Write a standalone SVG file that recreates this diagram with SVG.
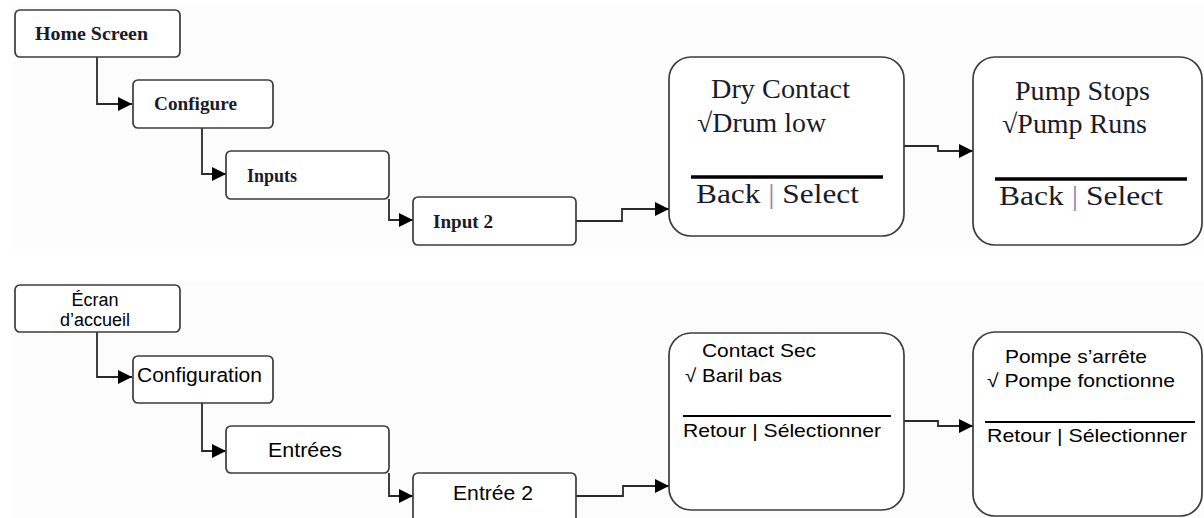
<svg xmlns="http://www.w3.org/2000/svg" width="1204" height="518" viewBox="0 0 1204 518">
<style>
.bg{fill:#fbfcfb}
.box{fill:#ffffff;stroke:#3c3c3c;stroke-width:1.7}
.con{fill:none;stroke:#2a2a2a;stroke-width:1.8}
.sep{stroke:#000;stroke-width:3.5}
.sep2{stroke:#000;stroke-width:2}
.ts{font-family:"Liberation Serif","Times New Roman",serif;font-weight:bold;font-size:18px;fill:#1a1a2a}
.tb{font-family:"Liberation Serif","Times New Roman",serif;font-size:27px;fill:#1a1a2a}
.fs{font-family:"Liberation Sans",Arial,sans-serif;font-size:18px;fill:#000}
.fm{font-family:"Liberation Sans",Arial,sans-serif;font-size:19px;fill:#000}
.fb{font-family:"Liberation Sans",Arial,sans-serif;font-size:20px;fill:#000}
.pipe{fill:#8c7fb4}
</style>
<defs>
<marker id="ah" markerUnits="userSpaceOnUse" markerWidth="15" markerHeight="15" viewBox="0 0 15 15" refX="14" refY="7.5" orient="auto">
<path d="M0,0.5 L14,7.5 L0,14.5 Z" fill="#000"/>
</marker>
</defs>
<rect class="bg" x="12" y="5" width="1192" height="244"/>
<rect class="bg" x="12" y="281" width="1192" height="237"/>

<g id="connectors">
<path class="con" d="M97,57 V104 H132" marker-end="url(#ah)"/>
<path class="con" d="M202,128 V174 H226" marker-end="url(#ah)"/>
<path class="con" d="M389,199 V220 H413" marker-end="url(#ah)"/>
<path class="con" d="M576,221 H622 V209 H669" marker-end="url(#ah)"/>
<path class="con" d="M904,146 H938 V151 H973" marker-end="url(#ah)"/>
<path class="con" d="M97,332 V377 H132" marker-end="url(#ah)"/>
<path class="con" d="M202,403 V451 H226" marker-end="url(#ah)"/>
<path class="con" d="M389,473 V496 H413" marker-end="url(#ah)"/>
<path class="con" d="M576,496 H623 V486 H669" marker-end="url(#ah)"/>
<path class="con" d="M904,421 H938 V426 H973" marker-end="url(#ah)"/>
</g>

<g id="home">
<rect class="box" x="15" y="10" width="165" height="47" rx="5"/>
<text class="ts" x="35" y="40" textLength="113" lengthAdjust="spacingAndGlyphs">Home Screen</text>
</g>
<g id="configure">
<rect class="box" x="133" y="80" width="140" height="48" rx="5"/>
<text class="ts" x="154" y="110" textLength="83" lengthAdjust="spacingAndGlyphs">Configure</text>
</g>
<g id="inputs">
<rect class="box" x="226" y="151" width="163" height="48" rx="5"/>
<text class="ts" x="247" y="182" textLength="50" lengthAdjust="spacingAndGlyphs">Inputs</text>
</g>
<g id="input2">
<rect class="box" x="413" y="197" width="163" height="48" rx="5"/>
<text class="ts" x="433" y="228" textLength="60" lengthAdjust="spacingAndGlyphs">Input 2</text>
</g>
<g id="drycontact">
<rect class="box" x="669" y="57" width="235" height="179" rx="22"/>
<text class="tb" x="711" y="98" textLength="139" lengthAdjust="spacingAndGlyphs">Dry Contact</text>
<text class="tb" x="697" y="132" textLength="129" lengthAdjust="spacingAndGlyphs">√Drum low</text>
<line class="sep" x1="691" y1="177" x2="883" y2="177"/>
<text class="tb" x="696" y="203" textLength="163" lengthAdjust="spacingAndGlyphs">Back  <tspan class="pipe">|</tspan>  Select</text>
</g>
<g id="pump">
<rect class="box" x="973" y="57" width="229" height="188" rx="22"/>
<text class="tb" x="1015" y="100" textLength="135" lengthAdjust="spacingAndGlyphs">Pump Stops</text>
<text class="tb" x="1002" y="133" textLength="145" lengthAdjust="spacingAndGlyphs">√Pump Runs</text>
<line class="sep" x1="995" y1="179" x2="1187" y2="179"/>
<text class="tb" x="999" y="205" textLength="164" lengthAdjust="spacingAndGlyphs">Back  <tspan class="pipe">|</tspan>  Select</text>
</g>

<g id="ecran">
<rect class="box" x="15" y="285" width="165" height="47" rx="5"/>
<text class="fs" x="95" y="306" text-anchor="middle">Écran</text>
<text class="fs" x="95" y="326" text-anchor="middle">d’accueil</text>
</g>
<g id="configuration">
<rect class="box" x="133" y="356" width="140" height="47" rx="5"/>
<text class="fb" x="137" y="382" textLength="125" lengthAdjust="spacingAndGlyphs">Configuration</text>
</g>
<g id="entrees">
<rect class="box" x="226" y="426" width="163" height="47" rx="5"/>
<text class="fb" x="268" y="457" textLength="74" lengthAdjust="spacingAndGlyphs">Entrées</text>
</g>
<g id="entree2">
<rect class="box" x="413" y="473" width="163" height="60" rx="5"/>
<text class="fb" x="453" y="500" textLength="80" lengthAdjust="spacingAndGlyphs">Entrée 2</text>
</g>
<g id="contactsec">
<rect class="box" x="669" y="333" width="235" height="177" rx="22"/>
<text class="fm" x="702" y="357" textLength="114" lengthAdjust="spacingAndGlyphs">Contact Sec</text>
<text class="fm" x="685" y="382" textLength="97" lengthAdjust="spacingAndGlyphs">√ Baril bas</text>
<line class="sep2" x1="683" y1="416" x2="891" y2="416"/>
<text class="fm" x="683" y="437" textLength="198" lengthAdjust="spacingAndGlyphs">Retour | Sélectionner</text>
</g>
<g id="pompe">
<rect class="box" x="973" y="332" width="229" height="184" rx="22"/>
<text class="fm" x="1005" y="363" textLength="142" lengthAdjust="spacingAndGlyphs">Pompe s’arrête</text>
<text class="fm" x="987" y="387" textLength="188" lengthAdjust="spacingAndGlyphs">√ Pompe fonctionne</text>
<line class="sep2" x1="985" y1="422" x2="1195" y2="422"/>
<text class="fm" x="987" y="442" textLength="200" lengthAdjust="spacingAndGlyphs">Retour | Sélectionner</text>
</g>
</svg>
